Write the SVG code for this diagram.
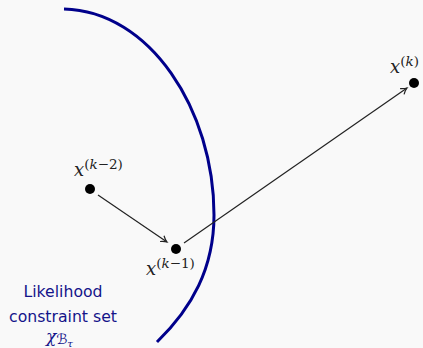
<svg xmlns="http://www.w3.org/2000/svg" width="423" height="348" viewBox="0 0 423 348">
<defs>
<style>
.conn{fill:none;stroke:#222;stroke-width:1.2}
.dot{fill:#000}
.m{font-family:"DejaVu Serif","Liberation Serif",serif;font-style:italic;fill:#222}
.sup{font-family:"DejaVu Serif","Liberation Serif",serif;font-size:13.5px;fill:#222}
.lbl{font-family:"DejaVu Sans",sans-serif;font-size:15.7px;fill:#14148a;text-anchor:middle}
</style>
<marker id="ah" markerWidth="10" markerHeight="10" refX="7" refY="4" orient="auto" markerUnits="userSpaceOnUse">
<path d="M1,0.5 Q4,3 7,4 Q4,5 1,7.5" fill="none" stroke="#222" stroke-width="1.2"/>
</marker>
</defs>
<rect width="423" height="348" fill="#f9f9f9"/>
<g id="constraint-set">
<path d="M64,9 C150,11 214,110 214,215 C214,268 192,308 157,342" fill="none" stroke="#00008b" stroke-width="3"/>
<text class="lbl" x="63" y="297">Likelihood</text>
<text class="lbl" x="63" y="322">constraint set</text>
<text x="46" y="342" font-family="DejaVu Serif,Liberation Serif,serif" fill="#14148a"><tspan font-style="italic" font-size="17">χ</tspan><tspan font-size="14" font-family="DejaVu Sans,sans-serif" dy="2">ℬ</tspan><tspan font-size="10" font-style="italic" dy="3">τ</tspan></text>
</g>
<g id="connectors">
<line class="conn" x1="98" y1="195" x2="167" y2="242" marker-end="url(#ah)"/>
<line class="conn" x1="184" y1="243" x2="407" y2="88" marker-end="url(#ah)"/>
</g>
<g id="x-k-2">
<circle class="dot" cx="90" cy="189" r="5"/>
<text x="74" y="176"><tspan class="m" font-size="18">x</tspan><tspan class="sup" dy="-7.5">(<tspan font-style="italic">k</tspan>−2)</tspan></text>
</g>
<g id="x-k-1">
<circle class="dot" cx="176" cy="249" r="5"/>
<text x="146" y="275"><tspan class="m" font-size="18">x</tspan><tspan class="sup" dy="-7.5">(<tspan font-style="italic">k</tspan>−1)</tspan></text>
</g>
<g id="x-k">
<circle class="dot" cx="414" cy="83" r="5"/>
<text x="390" y="73"><tspan class="m" font-size="18">x</tspan><tspan class="sup" dy="-7.5">(<tspan font-style="italic">k</tspan>)</tspan></text>
</g>
</svg>
